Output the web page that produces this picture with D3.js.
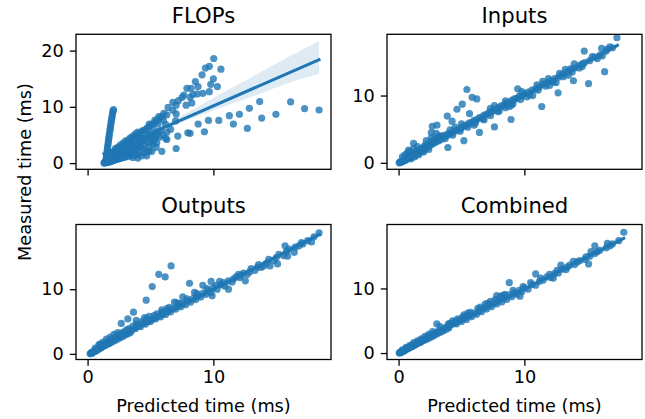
<!DOCTYPE html>
<html>
<head>
<meta charset="utf-8">
<script src="https://cdn.jsdelivr.net/npm/d3@7"></script>
<style>
  body { margin: 0; background: #fff; }
  svg text { font-family: "DejaVu Sans", sans-serif; fill: #000; }
</style>
</head>
<body>
<div id="chart"></div>
<script>
// panel titles, in grid order (row by row)
const titles = ['FLOPs', 'Inputs', 'Outputs', 'Combined'];
const xTicks = [0, 10];
const yTicks = [[0, 10, 20], [0, 10], [0, 10], [0, 10]];
const xDomain = [-0.92, 19.35];
const yDomains = [[-1.1, 22.9], [-0.96, 19.1], [-0.87, 20.0], [-1.0, 19.9]];

// predicted (x) vs measured (y) in ms
const flopsPts = [
  [1.45,0.2],[1.47,0.5],[1.48,0.8],[1.5,1.1],[1.52,1.4],[1.54,1.8],[1.56,2.2],[1.58,2.6],[1.6,3.0],[1.63,3.4],
  [1.65,3.8],[1.67,4.2],[1.7,4.6],[1.72,5.0],[1.75,5.4],[1.78,5.8],[1.8,6.2],[1.83,6.6],[1.86,7.0],[1.88,7.4],
  [1.91,7.8],[1.94,8.2],[1.97,8.6],[2.0,9.0],[2.03,9.3],[2.06,9.5],
  [1.3,0.0],[1.35,0.15],[1.4,0.05],[1.45,0.3],[1.5,0.1],[1.55,0.4],[1.6,0.2],[1.65,0.5],[1.7,0.15],[1.75,0.6],
  [1.8,0.3],[1.85,0.7],[1.9,0.35],[1.95,0.8],[2.0,0.45],[2.05,0.9],[2.1,0.5],[2.15,1.0],[2.2,0.6],[2.25,1.1],
  [2.3,0.65],[2.35,1.2],[2.4,0.75],[2.5,1.3],[2.55,0.8],[2.6,1.4],[2.7,0.9],[2.75,1.5],[2.85,1.0],[2.9,1.6],
  [3.0,1.1],[3.1,1.75],[3.2,1.2],[3.3,1.9],[3.4,1.3],[3.5,2.0],[3.6,1.0],[3.7,1.4],[3.8,2.1],[3.9,1.5],
  [4.0,0.9],[4.1,1.7],[4.3,1.3],[4.5,1.9],[4.7,1.3],[4.9,2.2],[1.6,0.9],[1.8,1.2],[2.0,1.4],[2.2,1.6],
  [2.4,1.9],[2.6,2.1],[2.8,2.3],[3.0,2.5],[3.2,2.7],[3.4,2.9],[3.6,3.1],[3.8,3.4],[4.0,3.6],[4.2,3.8],
  [4.4,4.1],[4.6,4.3],[4.8,4.6],[5.0,4.8],[5.2,5.1],[5.4,5.3],[5.6,5.6],[5.8,5.8],[2.1,1.9],[2.3,2.3],
  [2.5,2.6],[2.7,2.9],[2.9,3.2],[3.1,3.5],[3.3,3.8],[3.5,4.2],[3.7,4.5],[3.9,4.8],[4.1,5.2],[4.3,5.5],
  [4.5,5.8],[4.7,6.2],[4.9,6.5],[5.1,6.9],[5.3,7.2],[5.5,7.5],[5.7,7.9],[5.9,8.3],[3.6,2.4],[3.9,2.6],
  [4.2,3.0],[4.5,3.2],[4.8,3.7],[5.1,4.0],[5.4,4.4],[5.7,4.6],[6.0,5.0],[6.3,5.5],[4.4,2.6],[4.9,3.0],
  [5.2,3.4],[5.5,3.6],[6.6,6.0],[7.0,7.5],[6.2,6.9],
  [1.7,1.0],[1.9,1.5],[2.1,1.2],[2.3,1.5],[2.5,1.8],[2.7,2.0],[2.9,2.1],[3.1,2.3],[3.3,2.6],[3.5,2.7],
  [2.2,2.6],[2.4,2.8],[2.6,3.2],[2.8,3.5],[3.0,3.9],[3.2,4.1],[3.4,4.5],[3.6,4.8],[3.8,5.2],[4.0,5.5],
  [10.03,18.6],[9.68,17.2],[9.37,16.9],[10.6,16.7],[9.1,15.7],[10.0,15.0],[8.57,14.5],[8.78,13.6],[7.9,13.3],[8.23,13.3],
  [9.79,14.0],[10.32,13.6],[9.68,12.7],[9.16,12.4],[8.71,12.3],[8.36,12.2],[7.65,12.1],[7.52,11.7],[8.15,11.7],[7.22,11.1],
  [7.04,10.3],[8.28,10.7],[7.83,10.3],[6.78,10.8],[6.4,9.9],[6.78,9.4],[6.06,8.85],[7.04,8.75],[5.66,8.25],[6.3,8.6],
  [6.03,7.66],[5.35,7.66],[4.9,6.95],[5.6,6.95],[5.19,6.35],[4.72,6.0],[4.4,5.8],[4.92,5.2],[4.13,4.9],[5.45,4.9],
  [3.87,4.3],[4.53,4.1],[3.47,3.9],[5.19,3.9],[3.2,3.1],[4.13,2.8],[2.8,2.5],[4.72,2.0],[3.6,2.0],[2.54,1.6],[3.07,1.5],
  [16.14,10.87],[17.25,9.67],[18.4,9.44],[14.97,8.67],[13.68,10.94],[13.84,8.0],[12.86,9.74],[12.7,6.17],[12.07,8.67],[11.27,8.43],
  [11.59,6.95],[10.43,7.59],[9.61,7.59],[8.79,6.95],[9.29,5.58],[7.97,5.4],[8.15,5.3],[7.17,4.8],[6.3,4.2],[7.04,2.6],
  [5.9,2.1],[5.45,2.8],[5.1,2.1],[6.2,4.4]
];

const inputsPts = [
  [0.05,0.0],[0.1,0.1],[0.15,0.05],[0.2,0.2],[0.25,0.15],[0.3,0.3],[0.35,0.2],[0.4,0.4],[0.45,0.35],[0.5,0.5],
  [0.55,0.4],[0.6,0.6],[0.65,0.55],[0.7,0.7],[0.75,0.6],[0.8,0.85],[0.85,0.75],[0.9,0.95],[0.95,0.8],[1.0,1.05],
  [1.05,0.9],[1.1,1.2],[1.15,1.0],[1.2,1.3],[1.25,1.1],[1.3,1.45],[1.35,1.2],[1.4,1.6],[1.5,1.4],[1.55,1.75],
  [1.6,1.5],[1.7,1.9],[1.75,1.6],[1.8,2.1],[1.9,1.8],[2.0,2.3],[2.05,2.0],[2.1,2.6],[2.2,2.2],[2.3,2.8],
  [2.4,2.4],[2.5,3.0],[2.6,2.7],[2.7,3.3],[2.8,2.9],[2.9,3.5],[3.0,3.1],[3.1,3.8],[3.2,3.3],[3.3,4.0],
  [3.4,3.5],[3.5,3.8],[0.3,0.9],[0.5,1.2],[0.7,1.5],[0.9,1.7],[1.2,2.1],[1.0,0.6],[1.3,0.9],[1.6,1.2],
  [2.0,1.6],[2.4,2.0],[0.8,1.9],[1.19,2.9],[1.5,2.4],[2.2,3.3],[2.6,3.7],
  [3.6,4.1],[3.8,4.0],[4.0,4.3],[4.2,4.4],[4.4,4.7],[4.6,4.8],[4.8,5.0],[5.0,5.2],[5.2,5.5],[5.4,5.6],
  [5.6,5.9],[5.8,6.0],[6.0,6.3],[6.2,6.4],[6.4,6.7],[6.6,6.8],[6.8,7.1],[7.0,7.2],[7.2,7.5],[7.4,7.6],
  [7.6,7.9],[7.8,8.0],[8.0,8.3],[8.2,8.5],[8.4,8.6],[8.6,8.9],[8.8,9.0],[9.0,9.3],[9.2,9.5],[9.4,9.6],
  [9.6,9.9],[9.8,10.0],[10.0,10.3],[10.3,10.5],[10.6,10.8],[10.9,11.0],[11.2,11.3],[11.5,11.7],[11.8,11.9],[12.1,12.2],
  [12.4,12.5],[12.7,12.7],[13.0,13.1],[13.3,13.4],[13.6,13.7],[14.0,14.1],[14.4,14.5],[14.8,14.9],[15.2,15.2],[15.6,15.7],
  [16.0,16.0],[16.5,16.6],[17.0,17.1],
  [3.7,3.6],[4.3,4.1],[4.9,4.7],[5.5,5.3],[6.1,5.9],[6.7,6.5],[7.3,7.0],[7.9,7.6],[8.5,8.2],[9.1,8.8],
  [9.7,9.4],[10.4,10.1],[11.1,10.8],[11.7,11.4],[12.3,12.0],[13.1,12.8],[13.8,13.5],[14.6,14.7],[15.8,15.5],[16.6,16.9],
  [2.68,5.43],[3.05,5.6],[2.6,4.5],[2.99,4.4],[3.31,3.9],[3.92,4.3],[3.87,6.95],[4.25,6.19],[4.64,7.96],[5.06,8.72],
  [5.43,10.9],[5.85,9.74],[6.22,9.5],[5.64,7.3],[7.62,8.5],[8.81,8.37],
  [3.92,2.28],[5.19,3.3],[6.43,4.52],[7.62,5.33],[8.94,6.44],[11.38,8.37],[12.68,10.4],[15.1,11.77],[16.38,13.55],[13.9,12.2],
  [9.47,11.0],[10.66,10.0],[11.46,12.1],[11.91,12.5],[12.52,11.9],[13.26,13.9],[13.7,14.0],[14.37,14.1],[13.97,14.7],[14.76,16.6],
  [16.14,17.0],[16.8,17.25],[17.36,18.6],
  [4.1,4.9],[4.5,5.3],[5.0,5.8],[6.0,5.6],[6.8,6.4],[7.3,8.1],[8.0,7.7],[8.5,9.2],[9.0,8.6],[9.8,10.6],
  [10.2,9.8],[11.0,11.6],[12.0,11.5],[12.8,13.3],[13.5,13.0],[14.6,14.3],[15.4,15.8],[16.2,15.9]
];

const outputsPts = [
  [0.2,0.0],[0.25,0.1],[0.3,0.2],[0.35,0.1],[0.4,0.3],[0.45,0.25],[0.5,0.4],[0.55,0.35],[0.6,0.5],[0.65,0.45],
  [0.7,0.65],[0.75,0.55],[0.8,0.75],[0.85,0.7],[0.9,0.9],[0.95,0.8],[1.0,1.05],[1.05,0.95],[1.1,1.2],[1.15,1.05],
  [1.2,1.3],[1.3,1.2],[1.35,1.5],[1.4,1.3],[1.5,1.7],[1.55,1.45],[1.6,1.9],[1.7,1.6],[1.75,2.0],[1.8,1.7],
  [1.9,2.2],[2.0,1.9],[2.1,2.4],[2.2,2.1],[2.3,2.7],[2.4,2.3],[2.5,2.9],[2.6,2.5],[2.7,3.2],[2.8,2.7],
  [2.9,3.4],[3.0,2.9],[3.1,3.7],[3.2,3.1],[3.3,3.9],[3.4,3.3],[3.5,3.6],[3.6,4.3],[0.9,1.4],[1.2,1.8],
  [1.5,2.3],[1.8,2.6],[2.1,3.0],[2.4,3.3],[0.6,0.9],[1.0,1.5],
  [2.68,4.7],[3.2,5.4],[3.87,5.2],[4.53,5.6],[3.65,6.45],[4.66,8.3],[5.14,10.4],[5.66,12.3],[6.17,11.9],[6.64,13.6],
  [3.8,3.9],[4.0,4.3],[4.2,4.2],[4.4,4.7],[4.6,4.6],[4.8,5.0],[5.0,5.0],[5.2,5.4],[5.4,5.4],[5.6,5.8],
  [5.8,5.7],[6.0,6.2],[6.2,6.1],[6.4,6.6],[6.6,6.5],[6.8,7.0],[7.0,6.9],[7.2,7.4],[7.4,7.3],[7.6,7.8],
  [7.8,7.6],[8.0,8.2],[8.2,8.0],[8.4,8.6],[8.6,8.4],[8.8,9.0],[9.0,8.8],[9.2,9.4],[9.4,9.2],[9.6,9.8],
  [9.8,9.5],[10.0,10.2],[10.3,10.0],[10.6,10.7],[10.9,10.5],[11.2,11.3],[11.5,11.1],[11.8,11.9],[12.1,11.8],[12.4,12.5],
  [12.7,12.3],[13.0,13.2],[13.3,12.9],[13.6,13.8],[14.0,13.6],[14.4,14.6],[14.8,14.4],[15.2,15.4],[15.6,15.2],[16.0,16.2],
  [16.5,16.5],[17.0,17.2],[17.5,17.5],[18.0,18.1],[18.4,18.7],[17.8,17.3],[17.1,17.0],[15.7,16.7],[16.43,15.7],[15.9,15.1],
  [15.1,13.9],[14.5,13.6],[13.8,13.35],[12.54,11.3],[11.2,10.0],[12.0,12.3],[9.9,8.97],[9.82,11.2],[9.16,10.6],[8.1,10.9],
  [7.57,8.8],[6.9,8.0],[5.5,6.2],[6.3,7.0],[7.1,7.9],[8.5,9.5],[10.5,11.2],[4.9,5.8],[5.9,6.8],
  [3.9,4.6],[4.3,5.0],[4.7,5.4],[5.3,5.9],[5.9,6.4],[6.5,7.2],[7.3,7.8],[7.9,8.5],[8.7,9.3],[9.5,10.1],
  [10.2,10.6],[10.8,11.0],[11.6,11.6],[12.2,12.1],[12.9,12.7],[13.5,13.4],[14.2,14.0],[15.0,14.9],[15.8,15.8],[16.8,16.7]
];

const combinedPts = [
  [0.05,0.0],[0.1,0.1],[0.15,0.05],[0.2,0.2],[0.25,0.15],[0.3,0.3],[0.35,0.25],[0.4,0.4],[0.45,0.35],[0.5,0.5],
  [0.55,0.5],[0.6,0.6],[0.65,0.6],[0.7,0.75],[0.75,0.7],[0.8,0.85],[0.85,0.8],[0.9,0.95],[0.95,0.9],[1.0,1.05],
  [1.05,1.0],[1.1,1.15],[1.15,1.1],[1.2,1.3],[1.3,1.25],[1.35,1.45],[1.4,1.35],[1.5,1.6],[1.55,1.5],[1.6,1.75],
  [1.7,1.65],[1.75,1.9],[1.8,1.75],[1.9,2.05],[2.0,1.95],[2.1,2.25],[2.2,2.1],[2.3,2.45],[2.4,2.3],[2.5,2.7],
  [2.6,2.5],[2.7,2.9],[2.8,2.7],[2.9,3.1],[3.0,2.9],[3.1,3.3],[3.2,3.1],[3.3,3.5],[3.4,3.3],[3.5,3.7],
  [3.6,3.5],[3.7,3.9],[3.8,3.7],[3.9,4.1],[4.0,3.9],[0.3,0.5],[0.6,0.9],[0.9,1.2],[1.2,1.6],[1.5,1.9],
  [1.8,2.2],[2.1,2.6],[2.4,2.9],[2.7,3.3],[3.04,4.5],[3.3,4.1],[3.96,4.5],[4.2,4.4],[4.1,4.6],[4.4,4.6],
  [4.5,4.9],[4.6,4.5],[4.8,5.1],[5.0,4.9],[5.2,5.4],[5.4,5.2],[5.6,5.8],[5.8,5.6],[6.0,6.2],[6.2,6.0],
  [6.4,6.6],[6.6,6.4],[6.8,7.0],[7.0,6.8],[7.2,7.4],[7.4,7.2],[7.6,7.8],[7.8,7.6],[8.0,8.2],[8.2,7.9],
  [8.4,8.6],[8.6,8.3],[8.8,9.0],[9.0,8.7],[9.2,9.3],[9.4,9.1],[9.6,9.7],[9.8,9.5],[10.0,10.1],[10.3,9.9],
  [10.6,10.6],[10.9,10.5],[11.2,11.1],[11.5,11.3],[11.8,11.8],[12.1,11.7],[12.4,12.3],[12.7,12.4],[13.0,13.0],[13.3,12.9],
  [13.6,13.6],[14.0,13.7],[14.4,14.3],[14.8,14.5],[15.2,15.0],[15.6,15.4],[16.0,15.9],[16.5,16.3],[17.0,16.9],[17.5,17.4],
  [17.9,18.7],[16.6,17.0],[15.6,16.6],[15.3,15.7],[15.1,13.8],[13.9,14.2],[12.9,13.6],[12.3,11.6],[10.9,12.25],[8.8,10.9],
  [9.65,8.8],[8.46,9.1],[7.8,8.9],[7.3,8.0],[6.5,7.1],[5.5,6.2],[6.9,7.6],[8.1,8.8],[5.2,5.9],[4.3,5.0],
  [4.7,5.3],[5.1,5.6],[5.7,6.3],[6.3,6.9],[7.1,7.7],[7.7,8.3],[8.3,8.9],[9.1,9.7],[9.9,10.3],[10.5,10.9],
  [11.3,11.6],[12.0,12.2],[12.6,12.8],[13.4,13.3],[14.2,14.1],[14.9,14.9],[15.8,15.7],[16.8,16.6]
];

// regression line ends [x0, y0, x1, y1]
const fitLines = [
  [1.3, 1.64, 18.4, 18.4],
  [0.05, 0.0, 17.4, 17.45],
  [0.2, 0.15, 18.4, 18.45],
  [0.05, 0.0, 17.9, 17.75]
];

// confidence band: x positions, lower and upper edge
const bandX = [
  [1.3, 3, 4.5, 6.25, 8.36, 11.0, 13.65, 16.0, 18.4],
  [0.05, 8, 17.4],
  [0.2, 9, 18.4],
  [0.05, 9, 17.9]
];
const bandLo = [
  [1.35, 3.1, 4.6, 6.2, 8.0, 10.2, 12.3, 14.3, 15.85],
  [-0.2, 7.95, 17.15],
  [0.0, 8.95, 18.2],
  [-0.1, 8.85, 17.55]
];
const bandHi = [
  [1.95, 3.5, 5.0, 7.0, 9.5, 12.8, 16.0, 18.9, 21.7],
  [0.1, 8.1, 17.7],
  [0.3, 9.1, 18.7],
  [0.1, 8.95, 17.95]
];

const allPts = [flopsPts, inputsPts, outputsPts, combinedPts];

const width = 645, height = 419;
const color = '#1f77b4';
const fontSize = 17.7;
const boxes = [
  { x: 76, y: 34.3, w: 255, h: 135 },
  { x: 387, y: 34.3, w: 255, h: 135 },
  { x: 76, y: 224.5, w: 255, h: 135 },
  { x: 387, y: 224.5, w: 255, h: 135 }
];

const svg = d3.select('#chart').append('svg')
  .attr('width', width)
  .attr('height', height);

svg.append('rect').attr('width', width).attr('height', height).attr('fill', '#fff');

boxes.forEach((b, i) => {
  const x = d3.scaleLinear().domain(xDomain).range([0, b.w]);
  const y = d3.scaleLinear().domain(yDomains[i]).range([b.h, 0]);

  const g = svg.append('g').attr('transform', `translate(${b.x},${b.y})`);

  g.append('clipPath').attr('id', 'clip' + i)
    .append('rect').attr('width', b.w).attr('height', b.h);

  const plot = g.append('g').attr('clip-path', `url(#clip${i})`);

  plot.selectAll('circle')
    .data(allPts[i])
    .enter().append('circle')
    .attr('cx', d => x(d[0]))
    .attr('cy', d => y(d[1]))
    .attr('r', 3.6)
    .attr('fill', color)
    .attr('fill-opacity', 0.8);

  const band = bandX[i].map((bx, k) => [bx, bandLo[i][k], bandHi[i][k]]);
  plot.append('path')
    .datum(band)
    .attr('fill', color)
    .attr('fill-opacity', 0.15)
    .attr('d', d3.area().curve(d3.curveMonotoneX)
      .x(d => x(d[0])).y0(d => y(d[1])).y1(d => y(d[2])));

  const f = fitLines[i];
  plot.append('line')
    .attr('x1', x(f[0])).attr('y1', y(f[1]))
    .attr('x2', x(f[2])).attr('y2', y(f[3]))
    .attr('stroke', color)
    .attr('stroke-width', 3)
    .attr('stroke-linecap', 'square');

  // axes frame
  g.append('rect')
    .attr('width', b.w).attr('height', b.h)
    .attr('fill', 'none').attr('stroke', '#000').attr('stroke-width', 1.3);

  const xAxis = g.append('g').attr('transform', `translate(0,${b.h})`)
    .call(d3.axisBottom(x).tickValues(xTicks).tickSize(6.2).tickPadding(5)
      .tickFormat(i >= 2 ? d3.format('d') : () => ''));
  const yAxis = g.append('g')
    .call(d3.axisLeft(y).tickValues(yTicks[i]).tickSize(6.2).tickPadding(6)
      .tickFormat(d3.format('d')));

  [xAxis, yAxis].forEach(a => {
    a.select('.domain').remove();
    a.selectAll('line').attr('stroke', '#000').attr('stroke-width', 1.3);
    a.selectAll('text')
      .style('font-family', '"DejaVu Sans", sans-serif')
      .style('font-size', fontSize + 'px')
      .attr('fill', '#000');
  });

  g.append('text')
    .attr('x', b.w / 2)
    .attr('y', -11.3)
    .attr('text-anchor', 'middle')
    .style('font-size', '21.2px')
    .text(titles[i]);

  if (i >= 2) {
    g.append('text')
      .attr('x', b.w / 2)
      .attr('y', b.h + 52.5)
      .attr('text-anchor', 'middle')
      .style('font-size', fontSize + 'px')
      .text('Predicted time (ms)');
  }
});

svg.append('text')
  .attr('transform', 'translate(30.5,172) rotate(-90)')
  .attr('text-anchor', 'middle')
  .style('font-size', fontSize + 'px')
  .text('Measured time (ms)');
</script>
</body>
</html>
